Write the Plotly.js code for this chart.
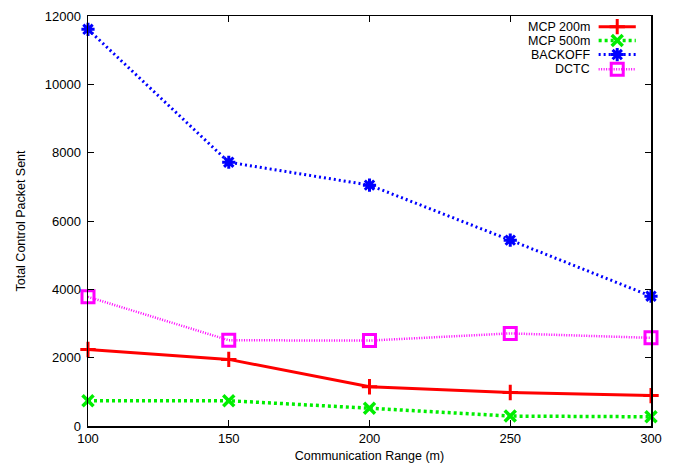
<!DOCTYPE html>
<html><head><meta charset="utf-8">
<script src="https://cdn.plot.ly/plotly-3.0.1.min.js"></script>
<style>body{margin:0;background:#fff}#c{width:675px;height:468px}</style>
</head><body><div id="c"></div>
<script>
const ranges = [100, 150, 200, 250, 300];
const mcp200 = [2240, 1950, 1150, 980, 890];
const mcp500 = [740, 740, 520, 290, 270];
const backoff = [11610, 7720, 7050, 5440, 3800];
const dctc = [3780, 2510, 2500, 2710, 2580];
const seriesNames = ['MCP 200m', 'MCP 500m', 'BACKOFF', 'DCTC'];
const xTicks = [100, 150, 200, 250, 300];
const yTicks = [0, 2000, 4000, 6000, 8000, 10000, 12000];

const styles = [
  {color:'#ff0000', dash:'solid', lw:3, sym:'cross-thin-open', ms:11, mlw:3},
  {color:'#00ee00', dash:'3px,3px', lw:3.5, sym:'x-thin-open', ms:11, mlw:3.5},
  {color:'#0000ff', dash:'2px,3px', lw:3, sym:'asterisk-open', ms:11, mlw:3},
  {color:'#ff00ff', dash:'1px,1.5px', lw:2.5, sym:'square-open', ms:12, mlw:3}
];
const ys = [mcp200, mcp500, backoff, dctc];
const traces = [];
ys.forEach((y,i)=>{
  const s = styles[i];
  traces.push({x:ranges, y:y, type:'scatter', mode:'lines+markers', cliponaxis:false,
    line:{color:s.color, width:s.lw, dash:s.dash},
    marker:{symbol:s.sym, size:s.ms, color:s.color, line:{color:s.color, width:s.mlw}},
    showlegend:false, name:seriesNames[i]});
});
// legend samples on overlay axes
const legY = [0.974, 0.940, 0.906, 0.870];
const annotations = [];
const tfont = {family:'Liberation Sans, Arial, sans-serif', size:13, color:'#000'};
const lfont = {family:'Liberation Sans, Arial, sans-serif', size:12.5, color:'#000'};
seriesNames.forEach((n,i)=>{
  const s = styles[i];
  traces.push({x:[0.907,0.973], y:[legY[i],legY[i]], xaxis:'x2', yaxis:'y2', type:'scatter', mode:'lines', cliponaxis:false,
    line:{color:s.color, width:s.lw, dash:s.dash}, showlegend:false, hoverinfo:'skip'});
  traces.push({x:[0.94], y:[legY[i]], xaxis:'x2', yaxis:'y2', type:'scatter', mode:'markers', cliponaxis:false,
    marker:{symbol:s.sym, size:s.ms, color:s.color, line:{color:s.color, width:s.mlw}}, showlegend:false, hoverinfo:'skip'});
  annotations.push({xref:'x2', yref:'y2', x:0.893, y:legY[i], text:n, showarrow:false, xanchor:'right', yanchor:'middle',
    height:12, borderpad:0, font:lfont});
});

const font = {family:'Liberation Sans, Arial, sans-serif', size:12.5, color:'#000'};
Plotly.newPlot('c', traces, {
  width:675, height:468,
  margin:{l:88, r:24, t:16, b:42},
  paper_bgcolor:'#fff', plot_bgcolor:'#fff',
  font:font,
  showlegend:false,
  xaxis:{range:[100,300], tickvals:xTicks, ticktext:xTicks.map(String), ticks:'inside', ticklen:6, tickcolor:'#000',
    showline:true, linecolor:'#000', linewidth:1.5, mirror:'ticks', showgrid:false, zeroline:false,
    title:{text:'Communication Range (m)', font:font, standoff:6}, tickfont:tfont},
  yaxis:{range:[0,12000], tickvals:yTicks, ticktext:yTicks.map(String), ticks:'inside', ticklen:6, tickcolor:'#000',
    showline:true, linecolor:'#000', linewidth:1.5, mirror:'ticks', showgrid:false, zeroline:false,
    ticklabelstandoff:3,
    title:{text:'Total Control Packet Sent', font:font, standoff:16}, tickfont:tfont},
  xaxis2:{overlaying:'x', range:[0,1], visible:false, fixedrange:true},
  yaxis2:{overlaying:'y', range:[0,1], visible:false, fixedrange:true},
  annotations:annotations
}, {staticPlot:true});
</script></body></html>
